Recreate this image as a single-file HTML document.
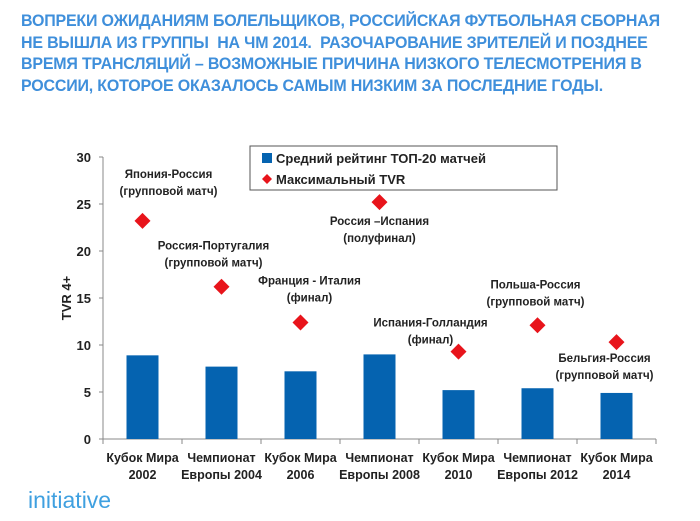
<!DOCTYPE html>
<html><head><meta charset="utf-8"><style>
body{margin:0;background:#fff;width:700px;height:521px;overflow:hidden;font-family:"Liberation Sans",sans-serif}
#title{position:absolute;left:21px;top:10px;color:#3f8fdb;font-weight:bold;font-size:17px;line-height:21.7px;transform:scaleX(0.94);transform-origin:0 0;white-space:nowrap;letter-spacing:-0.2px}
</style></head><body>
<div id="title">ВОПРЕКИ ОЖИДАНИЯМ БОЛЕЛЬЩИКОВ, РОССИЙСКАЯ ФУТБОЛЬНАЯ СБОРНАЯ<br>НЕ ВЫШЛА ИЗ ГРУППЫ&nbsp; НА ЧМ 2014.&nbsp; РАЗОЧАРОВАНИЕ ЗРИТЕЛЕЙ И ПОЗДНЕЕ<br>ВРЕМЯ ТРАНСЛЯЦИЙ – ВОЗМОЖНЫЕ ПРИЧИНА НИЗКОГО ТЕЛЕСМОТРЕНИЯ В<br>РОССИИ, КОТОРОЕ ОКАЗАЛОСЬ САМЫМ НИЗКИМ ЗА ПОСЛЕДНИЕ ГОДЫ.</div>
<svg id="chart" width="700" height="521" style="position:absolute;left:0;top:0" font-family="Liberation Sans, sans-serif" font-weight="bold">
<g id="marks"></g>
<rect x="250" y="146" width="307" height="44" fill="#fff" stroke="#555"/>
<rect x="262" y="153" width="10" height="10" fill="#0563b0"/>
<text x="276" y="163" font-size="13" fill="#222">Средний рейтинг ТОП-20 матчей</text>
<polygon points="267,174 272,179 267,184 262,179" fill="#e8141b"/>
<text x="276" y="184" font-size="13" fill="#222">Максимальный TVR</text>
<text transform="translate(71,298) rotate(-90)" text-anchor="middle" font-size="13" fill="#222">TVR 4+</text>
<text x="28" y="508" font-size="23" font-weight="normal" fill="#3fa0e0">initiative</text>
</svg>
<script>
const categories1=["Кубок Мира","Чемпионат","Кубок Мира","Чемпионат","Кубок Мира","Чемпионат","Кубок Мира"];
const categories2=["2002","Европы 2004","2006","Европы 2008","2010","Европы 2012","2014"];
const avgRating=[8.9,7.7,7.2,9.0,5.2,5.4,4.9];
const maxTVR=[23.2,16.2,12.4,25.2,9.3,12.1,10.3];
const matchNames=["Япония-Россия","Россия-Португалия","Франция - Италия","Россия –Испания","Испания-Голландия","Польша-Россия","Бельгия-Россия"];
const matchStages=["(групповой матч)","(групповой матч)","(финал)","(полуфинал)","(финал)","(групповой матч)","(групповой матч)"];
const yTicks=[0,5,10,15,20,25,30];
const labelOffX=[26,-8,9,0,-28,-2,-12];
const labelOffY=[-43,-37,-38,23,-25,-37,20];
const NS="http://www.w3.org/2000/svg";
const g=document.getElementById('marks');
const x0=103,x1=656,y0=439,y1=157;
const band=(x1-x0)/categories1.length;
const X=i=>x0+band*(i+0.5);
const Y=v=>y0-(v/30)*(y0-y1);
function mk(t,a){const e=document.createElementNS(NS,t);for(const k in a)e.setAttribute(k,a[k]);g.appendChild(e);return e;}
let ax=mk('line',{x1:x0,y1:y1,x2:x0,y2:y0,stroke:'#888'});


let bx=mk('line',{x1:x0,y1:y0,x2:x1,y2:y0,stroke:'#888'});


yTicks.forEach(v=>{
 let t=mk('line',{x1:x0-4,y1:Y(v),x2:x0,y2:Y(v),stroke:'#888'});
 
 
 let l=mk('text',{x:x0-12,y:Y(v)+5,'text-anchor':'end','font-size':13,fill:'#222'});
 l.textContent=v;
 
 
});
for(let i=0;i<=categories1.length;i++){
 let t=mk('line',{x1:x0+band*i,y1:y0,x2:x0+band*i,y2:y0+5,stroke:'#888'});
 
 
}
avgRating.forEach((v,i)=>{
 let b=mk('rect',{x:X(i)-16,y:Y(v),width:32,height:y0-Y(v),fill:'#0563b0'});
 
 
 let l1=mk('text',{x:X(i),y:y0+23,'text-anchor':'middle','font-size':12.5,fill:'#222'});
 l1.textContent=categories1[i];
 
 
 let l2=mk('text',{x:X(i),y:y0+40,'text-anchor':'middle','font-size':12.5,fill:'#222'});
 l2.textContent=categories2[i];
 
 
});
maxTVR.forEach((v,i)=>{
 const cx=X(i),cy=Y(v);
 let d=mk('polygon',{points:`${cx},${cy-8} ${cx+8},${cy} ${cx},${cy+8} ${cx-8},${cy}`,fill:'#e8141b'});
 
 
 let a=mk('text',{x:cx+labelOffX[i],y:cy+labelOffY[i],'text-anchor':'middle','font-size':11.5,fill:'#222'});
 a.textContent=matchNames[i];
 
 
 let b=mk('text',{x:cx+labelOffX[i],y:cy+labelOffY[i]+17,'text-anchor':'middle','font-size':11.5,fill:'#222'});
 b.textContent=matchStages[i];
 
 
});
</script>
</body></html>
